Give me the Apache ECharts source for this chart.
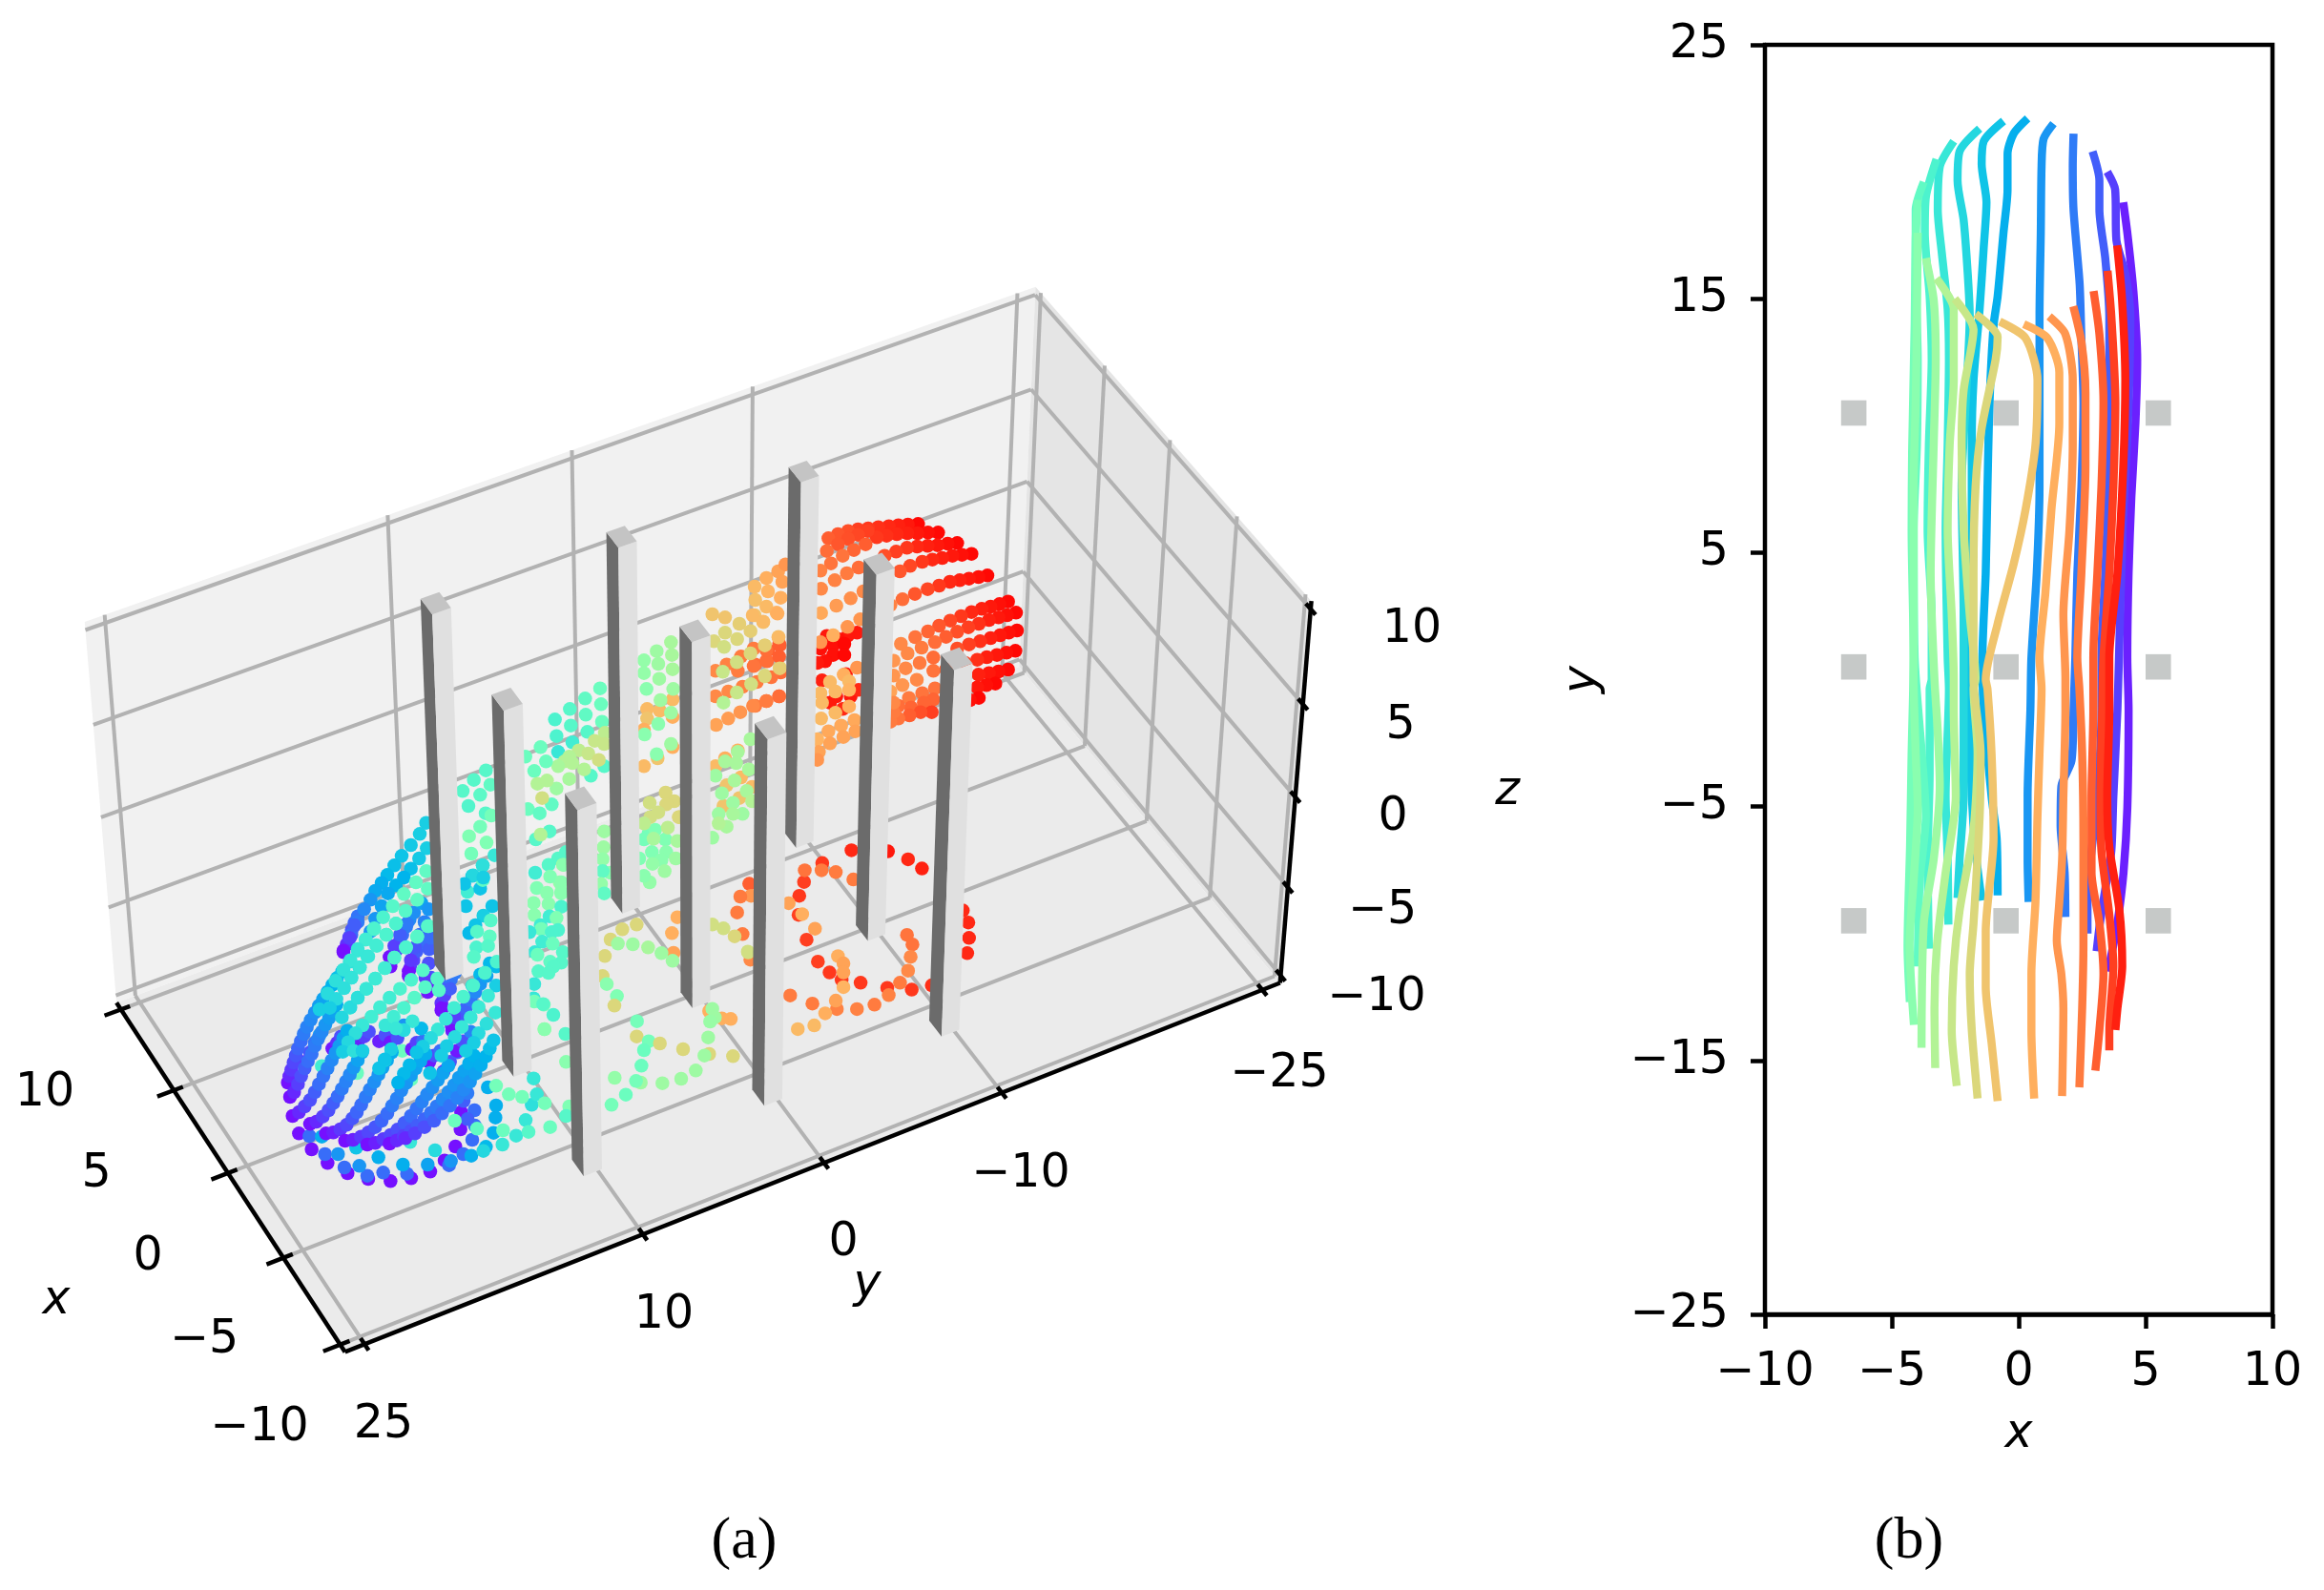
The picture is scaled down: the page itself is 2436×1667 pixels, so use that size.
<!DOCTYPE html>
<html><head><meta charset="utf-8">
<style>html,body{margin:0;padding:0;background:#fff}#c{width:2436px;height:1667px}</style>
<script src="https://cdn.jsdelivr.net/npm/echarts@6/dist/echarts.min.js"></script>
</head><body><div id="c"></div>
<script>
// ---------- panel (b): trajectories, top view [x, y]
const L04=[[4.12,18.8],[4.28,17.6],[4.52,15.3],[4.67,12.6],[4.6,10.1],[4.44,7.2],[4.33,4.2],[4.28,.86],[4.33,-1.2],[4.28,-5.07],[4.13,-7.6],[3.89,-9.6],[3.73,-10.44],[3.52,-11.5]];
const L08=[[3.49,20],[3.8,19.3],[3.85,17.3],[4.2,16],[4.4,14.3],[4.3,10],[4.1,6],[3.95,.86],[3.89,-1.2],[3.73,-4.6],[3.65,-6.75],[3.41,-8.26],[3.2,-9.6],[3.07,-10.7]];
const L12=[[2.91,20.8],[3.18,19.65],[3.18,18.5],[3.41,16.6],[3.57,14.3],[3.57,10.9],[3.54,7.6],[3.41,4.2],[3.26,.86],[3.26,-1.2],[3.1,-4.6],[2.87,-6.75],[2.71,-8.26],[2.71,-10]];
const L16=[[2.16,21.5],[2.13,20.2],[2.16,18.5],[2.4,15.6],[2.47,13.45],[2.55,10.9],[2.47,7.6],[2.31,4.2],[2.23,.86],[2.16,-1.2],[2.08,-3.2],[1.68,-4.2],[1.65,-5.74],[1.81,-7.6],[1.84,-9.35]];
const L20=[[1.37,21.9],[.98,21.3],[.9,20.2],[.87,17.6],[.82,14.3],[.82,10.9],[.82,7.6],[.71,4.2],[.5,.86],[.46,-1.2],[.35,-4.6],[.35,-7.08],[.39,-8.76]];
const L24=[[.35,22.1],[-.2,21.5],[-.44,20.7],[-.44,19.3],[-.6,17.6],[-.83,15.1],[-.99,13.95],[-1.15,10.9],[-1.23,7.6],[-1.3,4.2],[-1.43,.86],[-1.38,-1.2],[-1.07,-4.6],[-.87,-6.24],[-.83,-8.5]];
const L28=[[-.6,22],[-1.38,21.2],[-1.46,20.3],[-1.27,18.8],[-1.38,17],[-1.54,14.6],[-1.78,11.8],[-1.85,9.25],[-1.85,5.9],[-2.09,.86],[-1.93,-1.7],[-1.85,-4.6],[-1.7,-6.75],[-1.46,-8.7]];
const L32=[[-1.54,21.7],[-2.33,20.8],[-2.41,19.65],[-2.17,18.1],[-2.01,16],[-1.93,14.3],[-2.09,10.9],[-2.25,7.6],[-2.17,2.55],[-2.17,.02],[-2.17,-1.2],[-2.17,-4.6],[-2.33,-7.08],[-2.41,-8.6]];
const L36=[[-2.56,21.2],[-3.11,20.2],[-3.19,18.5],[-3.03,16.8],[-2.8,14.6],[-2.75,12.6],[-2.8,9.25],[-2.88,5.9],[-2.8,.86],[-2.75,-.37],[-2.88,-4.6],[-2.8,-7.08],[-2.77,-9.65]];
const L40=[[-3.24,20.5],[-3.66,19],[-3.7,17.6],[-3.51,15.1],[-3.43,12.6],[-3.54,9.25],[-3.59,5.9],[-3.43,2.55],[-3.43,.02],[-3.51,-.37],[-3.51,-3.7],[-3.59,-7.08],[-3.54,-10.6]];
const L44=[[-3.74,19.6],[-4.06,18.5],[-4.06,16],[-3.98,12.6],[-4.01,9.25],[-4.14,5.9],[-4.1,.86],[-3.82,-2.9],[-3.66,-5.4],[-3.9,-7.92],[-3.98,-11.3]];
const L48=[[-3.98,18.9],[-4.06,17.3],[-4.1,14],[-4.2,9],[-4.22,5.9],[-4.14,.86],[-4.22,-2.9],[-4.28,-6.5],[-4.38,-10.5],[-4.29,-12.7]];
const L52=[[-3.98,17.6],[-4.01,14.3],[-4.06,10.9],[-4.14,7.6],[-4.14,4.2],[-4.14,.02],[-4.06,-2.9],[-3.98,-5.07],[-4.14,-7.92],[-4.3,-10.44],[-4.13,-13.6]];
const L56=[[-3.66,16.6],[-3.35,14.95],[-3.27,12.6],[-3.35,9.25],[-3.47,4.2],[-3.32,.02],[-3.19,-2.05],[-3.11,-4.2],[-3.35,-7.08],[-3.74,-9.6],[-3.83,-14.5]];
const L60=[[-3.24,15.8],[-2.56,14.6],[-2.56,11.8],[-2.72,9.25],[-2.8,5.9],[-2.64,2.55],[-2.56,.02],[-2.56,-1.2],[-2.48,-4.6],[-2.88,-7.6],[-3.22,-10.44],[-3.32,-12.95],[-3.29,-15.3]];
const L64=[[-2.52,15],[-1.78,13.8],[-2.17,11.4],[-2.25,9.25],[-2.17,5.9],[-1.93,2.55],[-1.7,.02],[-1.78,-.37],[-1.62,-2.9],[-1.78,-5.9],[-2.33,-9.1],[-2.56,-11.28],[-2.64,-13.8],[-2.44,-16]];
const L68=[[-1.7,14.4],[-.83,13.5],[-.91,12.6],[-1.46,9.9],[-1.7,7.6],[-1.78,4.2],[-1.78,.02],[-1.5,-2.9],[-1.54,-5.4],[-1.78,-9.6],[-1.93,-11.6],[-1.85,-13.8],[-1.62,-16.5]];
const L72=[[-.75,14.1],[.27,13.45],[.74,11.8],[.66,9.25],[.27,6.7],[-.2,4.55],[-.83,2.2],[-1.3,0],[-1.23,-.37],[-1.07,-2.9],[-.99,-6.24],[-1.3,-9.93],[-1.3,-12.1],[-1.07,-14.3],[-.83,-16.6]];
const L76=[[.2,14],[1.13,13.45],[1.6,12.1],[1.6,10.1],[1.29,6.7],[1.05,3.4],[.82,.86],[.9,-.37],[.82,-2.9],[.74,-5.4],[.66,-8.76],[.5,-11.6],[.5,-13.8],[.61,-16.5]];
const L80=[[1.2,14.3],[1.84,13.6],[2.13,11.8],[2.13,9.25],[2,5.9],[1.76,2.55],[1.84,.02],[1.84,-1.2],[1.76,-4.6],[1.71,-7.08],[1.6,-8.76],[1.5,-10.27],[1.68,-11.6],[1.76,-12.95],[1.71,-16.4]];
const L84=[[2.15,14.7],[2.47,13.3],[2.63,11.3],[2.63,8.4],[2.47,4.2],[2.31,.86],[2.39,-.37],[2.5,-2.9],[2.55,-6.24],[2.55,-10.44],[2.5,-12.95],[2.39,-16.06]];
const L88=[[2.95,15.3],[3.18,13.6],[3.34,10.9],[3.26,7.6],[3.1,4.2],[2.94,.86],[2.94,-1.2],[2.87,-4.6],[2.87,-7.6],[3.18,-9.6],[3.34,-11.6],[3.18,-13.8],[3.02,-15.4]];
const L92=[[3.5,16.1],[3.65,14.3],[3.81,10.9],[3.73,7.6],[3.57,4.2],[3.34,.86],[3.29,-1.2],[3.22,-4.6],[3.26,-6.75],[3.57,-9.26],[3.73,-11.28],[3.57,-13.8],[3.57,-14.6]];
const L96=[[3.88,17.1],[4.07,15],[4.2,11.8],[4.12,8.4],[3.89,4.2],[3.57,.86],[3.57,-1.2],[3.49,-4.6],[3.57,-6.58],[3.97,-9.1],[4.08,-11.28],[3.89,-12.95],[3.81,-13.8]];
const trajectories=[L04,L08,L12,L16,L20,L24,L28,L32,L36,L40,L44,L48,L52,L56,L60,L64,L68,L72,L76,L80,L84,L88,L92,L96];
const trajectoryLevels=[.04,.08,.12,.16,.2,.24,.28,.32,.36,.4,.44,.48,.52,.56,.6,.64,.68,.72,.76,.8,.84,.88,.92,.96];
const obstacleXs=[[-7,-6],[-1,0],[5,6]];
const obstacleYs=[[-10,-9],[0,1],[10,11]];
const obstacleFoot=-10, obstacleTop=10;
const xTicksB=[-10,-5,0,5,10];
const yTicksB=[-25,-15,-5,5,15,25];

// ---------- panel (a): box ticks
const xTicks3d=[-10,-5,0,5,10];
const yTicks3d=[-25,-10,0,10,25];
const zTicks3d=[-10,-5,0,5,10];
// camera read-off: [x,y,z, picture u, picture v]
const cameraMarks=[[10.42,25,-10.42,142,1043],[-10,25,-10.42,377,1402],[10,-25,-10.42,1051.7,711],[-10,-25,-10.42,1315.7,1032.5],
[10,-26.04,10.42,1091.8,310.6],[-10,-26.04,10.42,1369.3,627],[10,-26.04,-10.42,1076.5,703.5],[-10,-26.04,-10.42,1338.7,1019.8],
[-10.42,-26.04,10.42,1374,627],[-10.42,-26.04,-10.42,1342,1030],[10.42,26.04,10,88.3,658],[10.42,26.04,-10,121.7,1045.7],
[10.42,25,10,110,650.7],[10.42,10,10,408.3,551],[10.42,10,-5,420,843],[10.42,-26.04,10.42,1084,298],
[-10,26.04,-10.42,359,1411],[-10.42,25,-10.42,382,1408],[-10.42,-25,-10.42,1323,1040],[-10.42,0,-10.42,862,1220],[-10.42,26.04,-10.42,360,1416]];

// ---------- panel (a): dots [u, v, time level], each list in its own read-off frame
const floorFront=[[100,685,.02],[140,735,.02],[190,778,.02],[253,810,.02],[318,828,.02],[388,835,.02],[453,826,.02],[513,805,.02],[558,770,.02],[592,726,.02],[608,672,.02],[610,618,.02],
[133,693,.14],[182,750,.14],[243,792,.14],[315,818,.14],[365,808,.14],[440,812,.14],[572,785,.14],[617,750,.14],[645,705,.14],[653,660,.14],[652,612,.14],[630,640,.12],[618,583,.12],[630,558,.16],
[223,750,.2],[290,787,.2],[350,760,.24],[427,783,.24],[505,783,.22],[578,772,.2],[642,755,.24],[688,727,.26],[712,683,.24],[718,635,.24],[720,597,.24],[694,540,.24],
[172,695,.24],[280,730,.28],[528,738,.33],[680,740,.32],[740,720,.36],[783,692,.36],[813,643,.36],[832,595,.34],[848,562,.36],[838,512,.36],[450,712,.36],
[720,535,.48],[760,562,.48],[802,570,.48],[873,590,.48],[822,680,.42],[742,675,.46],[660,670,.44],[590,645,.46],[890,665,.46],[283,495,.46],[172,473,.38],[425,425,.46],[453,515,.46],[870,280,.48],[872,357,.56]];
const floorMiddle=[[1395,778,.66],[1402,800,.82]];
const floorFar=[[895,1075,.95],[995,1078,.97],[1050,1100,.95],[1088,1125,.96],[815,1110,.93],[765,1162,.92],[752,1200,.93],[750,1252,.92],[772,1320,.92],[803,1380,.92],[835,1410,.93],[868,1430,.93],[920,1438,.93],[993,1452,.93],[1060,1457,.93],[1115,1445,.94],[1212,1357,.95],[1217,1315,.95],[1215,1273,.95],[1200,1240,.95],
[767,1130,.85],[813,1130,.84],[852,1135,.84],[900,1155,.84],[615,1167,.88],[620,1200,.8],[723,1220,.78],[760,1250,.76],[795,1290,.78],[858,1365,.76],[873,1385,.78],[873,1410,.78],[873,1450,.75],[1047,1307,.85],[1062,1333,.85],[1057,1367,.82],[1050,1405,.82],[1028,1438,.84],[997,1472,.83],[958,1498,.84],[910,1510,.83],[855,1510,.83],[788,1495,.84],[727,1473,.84],[852,1487,.78],[823,1522,.76],[793,1555,.74],[748,1565,.74],[612,1355,.66]];
const farEnd=[[517,58,.99],[485,60,.97],[455,62,.96],[425,65,.95],[392,68,.94],[360,72,.93],[328,75,.92],[297,80,.9],[265,90,.89],[235,103,.88],
[580,85,.99],[548,85,.98],[515,87,.97],[483,87,.96],[450,90,.95],[418,95,.94],[387,100,.93],[358,80,.92],[328,92,.91],[297,105,.9],[265,122,.89],[230,143,.86],[352,122,.88],[315,140,.87],[280,158,.85],[243,182,.85],[210,205,.83],
[640,118,.99],[610,120,.98],[578,125,.97],[547,127,.96],[514,129,.95],[482,133,.93],[448,145,.92],[412,158,.9],
[685,152,.99],[655,155,.98],[625,158,.97],[593,165,.96],[562,170,.95],[530,177,.93],[492,190,.91],[460,207,.89],[330,195,.86],[293,213,.84],[255,235,.83],[212,262,.82],
[735,220,.99],[707,225,.98],[677,230,.97],[648,235,.96],[617,240,.95],[583,252,.93],[547,263,.91],[507,278,.89],[468,295,.86],[430,313,.83],[345,270,.82],[305,292,.81],[260,315,.79],[212,338,.77],
[800,302,.99],[773,310,.98],[745,318,.97],[717,325,.96],[685,335,.95],[652,348,.93],[618,362,.91],[583,378,.89],[548,396,.87],[508,414,.85],[463,435,.82],
[825,337,.99],[797,345,.98],[770,352,.97],[740,360,.96],[708,372,.94],[675,383,.92],[640,397,.9],[605,413,.88],[570,430,.86],[528,447,.84],[484,465,.82],[440,488,.8],
[828,393,.99],[802,400,.98],[775,408,.97],[745,417,.96],[712,427,.94],[677,437,.92],[640,450,.9],[565,478,.86],[522,495,.84],[478,512,.82],[440,535,.8],
[823,457,.99],[795,463,.98],[765,470,.97],[733,477,.96],[703,485,.94],[665,495,.92],[605,515,.88],[565,520,.85],[513,548,.82],[468,565,.8],[430,585,.78],
[800,516,.99],[770,522,.98],[740,527,.97],[707,532,.96],[760,560,.99],[732,565,.98],[703,572,.97],[708,605,.99],[680,612,.98],
[570,575,.85],[530,590,.85],[488,605,.84],[565,610,.87],[535,620,.87],[495,635,.87],[455,630,.86],[560,650,.92],[525,650,.9],[490,660,.88],[455,670,.85],[430,680,.84],[440,650,.84],[440,620,.82],
[325,400,.97],[295,410,.97],[265,420,.98],[230,410,.97],[210,450,.98],[250,440,.98],[285,435,.99],[250,470,.98],[285,470,.99],[225,490,.98],[200,495,.97],
[290,530,.97],[305,600,.97],[260,600,.97],[240,620,.97],[280,640,.95],[215,550,.96],[330,580,.95],
[250,408,.76],[295,382,.8],[335,358,.8],[210,430,.8],[325,510,.8],[283,532,.76],[240,555,.74],[300,553,.74],[257,585,.74],[300,580,.75],[210,590,.74],[215,620,.74],[300,632,.76],[257,652,.74],[212,670,.74],[317,675,.77],[275,692,.77],[235,710,.77],[320,710,.78],[282,728,.78],[240,748,.78],[200,735,.75],[205,775,.78],[200,800,.8],
[40,228,.76],[77,207,.78],[90,240,.78],[100,185,.8],[45,270,.75],[85,290,.76],[3,255,.74],[5,297,.73],[40,318,.74],[72,337,.75],[3,345,.72],[30,367,.72],
[82,440,.88],[42,490,.86],[85,525,.86],[5,500,.86],[45,455,.88],[40,615,.85],[80,600,.86],[5,630,.84],[78,413,.72],[35,440,.68],[82,510,.7],[35,535,.66]];
const midUpper=[[147,245,.46],[100,277,.44],[150,295,.46],[52,310,.42],[102,328,.44],[153,350,.46],[55,362,.42],[5,343,.4],[107,382,.42],[10,395,.4],[60,415,.38],[15,445,.36],[160,490,.42],[118,520,.42],
[162,385,.62],[130,410,.64],[160,420,.64],[80,440,.62],[110,450,.64],[143,470,.66],[50,460,.6],[35,475,.6],[60,480,.6],[97,500,.6],[15,490,.58],[50,530,.58],[10,560,.56],
[375,280,.74],[295,310,.74],[335,315,.74],[295,340,.72],[375,335,.76],[285,375,.76],[375,430,.76],[285,490,.74],[328,465,.72],
[370,100,.58],[325,128,.56],[373,140,.58],[285,157,.54],[330,168,.56],[375,185,.58],[285,197,.54],[333,215,.56],[293,247,.52],[377,247,.56],[337,282,.56],[370,322,.56],[330,357,.52],[287,390,.52],[370,420,.56],[325,452,.52],
[500,12,.72],[540,22,.72],[585,42,.7],[540,70,.68],[505,97,.68],[578,90,.68],[620,65,.7],[627,15,.74],[660,35,.74],[705,10,.76],[537,115,.66],
[630,120,.84],[590,145,.84],[545,170,.83],[510,190,.82],[670,158,.86],[710,145,.88],[710,105,.88],[670,125,.86],[630,175,.85],[580,190,.84],[685,210,.85],[640,225,.84],[595,240,.83],[550,255,.82],[510,270,.82],[710,270,.86],[670,285,.84],[628,300,.82],[588,320,.8],[550,340,.79],[512,360,.78],
[665,110,.7],[708,85,.74],[620,135,.68],[577,163,.66],[533,193,.64],[712,182,.7],[665,207,.68],[622,232,.66],[577,258,.64],[535,290,.6],
[540,465,.76],[580,440,.76],[510,490,.74],[590,525,.74],[545,550,.72],[625,555,.74],[585,590,.72],[535,615,.72],[395,650,.7],
[620,405,.58],[580,445,.58],[540,475,.58],[615,500,.58],[575,480,.58],[510,520,.56],[570,535,.58],[530,575,.56],[608,568,.58],[565,605,.56],[520,640,.56],[595,640,.56],[565,640,.58],[545,680,.58],[520,670,.6],[625,600,.6],[500,715,.56],
[300,700,.48],[285,720,.48],[320,690,.5],[352,720,.5],[310,760,.5],[355,760,.52],[340,785,.52],[270,780,.5],[385,780,.56],[312,797,.54],[350,820,.56],[303,855,.54],[285,835,.52],
[353,573,.68],[303,605,.66],[380,600,.68],[355,610,.68],[330,635,.66],[305,650,.66],[285,670,.62],[395,650,.68],[360,683,.62],[315,718,.58],[390,725,.58],
[40,760,.42],[15,780,.42],[30,800,.56],[160,695,.56],[158,745,.56],[155,782,.54],[180,825,.52],[155,820,.44],[20,855,.54],[150,860,.54],[160,890,.44],[25,885,.52]];
const midLower=[[285,20,.42],[243,45,.38],[333,20,.52],[290,57,.5],[325,75,.52],[248,93,.5],[280,108,.52],[325,110,.52],[238,140,.52],[285,143,.52],[325,152,.4],[240,178,.52],[288,182,.38],[310,187,.5],[260,210,.38],[262,222,.48],[315,225,.4],[225,232,.36],[295,232,.4],[265,262,.38],[298,268,.46],[242,295,.36],[330,295,.42],[250,303,.46],[290,325,.44],[325,328,.42],[300,340,.42],[253,355,.42],[285,360,.42],[240,395,.36],[238,440,.36],[240,450,.48],[268,458,.42],[300,492,.4],[272,537,.52],[338,552,.42],[340,640,.52],[350,780,.5],[340,810,.42],
[108,150,.28],[80,180,.3],[55,210,.28],[35,235,.26],[103,195,.42],[60,230,.42],[100,245,.44],[58,280,.4],[95,275,.42],[50,310,.42],[25,150,.28],[30,105,.38],[70,95,.28],[45,55,.3],[78,68,.44],[78,22,.36],[120,340,.26],[100,330,.26],[70,365,.26],[85,360,.34],[45,400,.34],[120,400,.3],
[888,120,.84],[878,170,.84],[895,238,.84],[690,185,.76],[673,235,.76],[678,297,.78],[858,505,.76],[830,503,.76],[790,480,.76],
[562,208,.68],[517,223,.68],[480,255,.68],[503,268,.56],[550,270,.56],[598,280,.58],[640,298,.56],[675,322,.56],[462,307,.68],[455,370,.68],[468,395,.52],[500,433,.5],[492,463,.68],[563,512,.48],[562,560,.68],[600,575,.48],[585,603,.46],[635,582,.68],[577,652,.46],[708,600,.68],[790,615,.68],[775,620,.56],[865,622,.68],[787,563,.56],[800,473,.56],[808,500,.56],[793,513,.55],[493,690,.54],[575,705,.56],[560,700,.48],[643,707,.56],[702,693,.56],[748,667,.56],[528,743,.46],[483,775,.48],[835,220,.66],[870,245,.68],[800,208,.66]];
const stubs=[[240,115,.02],[250,90,.06],[258,68,.09],[266,45,.11],[275,22,.13],[285,2,.15],[388,160,.02],[395,135,.07],[405,110,.09],[415,85,.12],[425,60,.14],[437,35,.16],[448,12,.18],[445,190,.02],[450,165,.06],[460,140,.09],[470,112,.12],[480,85,.14],[490,58,.16],[500,30,.18],[505,240,.03],[505,215,.08],[515,195,.1],[548,298,.02],[548,275,.06],[555,250,.09],[565,225,.12],[578,200,.15],[590,180,.16],[582,362,.03],[595,340,.08],[610,315,.11],[625,290,.13],[640,265,.15],[655,240,.18],[670,215,.2],[690,190,.22],[205,418,.03],[220,400,.06],[232,380,.1],[285,398,.04],[305,380,.08],[320,365,.1],[352,395,.04],[372,375,.1],[388,398,.03],[410,385,.1],[430,345,.2],[455,420,.03],[470,400,.08],[490,395,.14],[510,460,.03],[525,440,.1],[545,425,.14],[555,490,.04],[575,460,.1],[598,430,.13],[597,425,.03],[615,395,.1],[640,365,.17],[120,460,.04],[135,430,.1],[150,400,.15],[165,375,.2]];
const frontArcs=[[65,525,.02],[70,505,.05],[76,485,.07],[83,462,.09],[90,440,.11],[97,418,.13],[106,395,.14],[115,372,.16],[125,350,.17],[137,328,.18],[150,305,.19],[163,283,.21],[176,262,.22],[190,240,.24],[205,218,.25],[220,196,.27],[236,175,.28],
[72,570,.02],[85,555,.05],[97,530,.08],[107,505,.1],[118,480,.12],[128,458,.14],[140,435,.15],[150,410,.16],[160,388,.17],[172,365,.18],[183,343,.2],[195,322,.21],[207,300,.22],[218,280,.24],
[80,630,.02],[100,618,.05],[118,600,.08],[135,580,.1],[150,555,.12],[163,530,.14],[177,505,.15],[190,480,.17],[203,455,.18],[215,432,.2],[227,410,.21],[240,385,.22],[252,362,.24],
[135,655,.02],[155,648,.05],[175,632,.08],[193,612,.1],[208,590,.12],[222,568,.14],[235,545,.16],[248,522,.17],[260,500,.18],[272,478,.2],[285,455,.22],[298,430,.23],
[185,685,.02],[208,682,.04],[230,672,.07],[250,658,.09],[268,638,.11],[282,618,.13],[296,595,.14],[310,570,.16],[323,547,.17],[337,523,.19],[350,500,.2],[363,478,.22],[377,455,.23],[392,430,.24],
[245,708,.02],[270,705,.04],[295,695,.07],[318,682,.09],[340,665,.11],[360,645,.13],[378,622,.14],[393,598,.16],[408,575,.17],[422,550,.18],[437,527,.2],[452,503,.21],[467,480,.22],[482,458,.23],[498,435,.24],
[315,720,.02],[340,715,.04],[365,703,.07],[388,690,.09],[410,673,.1],[432,652,.12],[452,630,.14],[470,607,.15],[487,585,.17],[503,562,.18],[520,540,.19],[537,517,.21],[553,495,.22],[570,472,.23],
[385,717,.02],[408,707,.05],[430,693,.08],[452,678,.1],[473,660,.12],[495,640,.13],[515,620,.15],[533,600,.16],[552,578,.18],[570,555,.19],[588,533,.2],[603,510,.21],[620,488,.22],[635,465,.24],[650,440,.25],
[435,700,.05],[465,685,.08],[495,665,.1],[525,645,.12],[550,622,.14],[575,598,.15],[598,573,.17],[618,548,.18],[638,522,.2],[655,497,.22],[672,470,.24],[688,443,.25],[700,418,.27],[712,392,.28]];
const clusterMiddle=[[448,83,.42],[410,113,.42],[462,128,.44],[375,148,.42],[430,160,.43],[393,195,.41],[447,218,.42],[260,248,.3],[240,283,.3],[212,318,.29],[262,328,.3],[183,352,.28],[238,360,.29],[160,382,.27],[212,392,.27],[138,412,.26],[120,437,.24],[190,420,.25],[100,462,.23],[165,445,.25],[85,490,.2],[140,470,.23],[65,520,.18],[120,510,.22],[45,560,.16],[100,550,.2],[25,600,.14],[85,590,.2],
[0,650,.02],[20,610,.08],[35,570,.12],[145,670,.02],[160,635,.08],[178,600,.12],[200,565,.16],[222,530,.19],[245,500,.22],[205,715,.02],[212,680,.07],[225,640,.11],[240,600,.14],[255,560,.17],[268,520,.2],[265,770,.02],[258,735,.07],[268,690,.1],[270,645,.12],[275,610,.14],[310,830,.02],[318,790,.08],[335,770,.12],[340,885,.02],[348,860,.08],
[475,350,.36],[438,382,.34],[408,413,.32],[440,420,.3],[380,440,.28],
[580,205,.46],[617,218,.44],[655,190,.44],[605,300,.42],[648,275,.42],[572,40,.46],[620,10,.46],[637,55,.46],[600,85,.46],
[430,260,.48],[465,225,.48],[395,290,.5],[450,310,.5],[402,345,.48],
[610,125,.6],[640,115,.6],[625,170,.66],[620,285,.6],
[260,400,.44],[228,435,.44],[265,455,.44],[190,472,.44],[232,490,.44],[155,510,.42],[195,525,.42],[125,545,.4],[165,565,.4],[95,583,.4],[135,600,.38],[70,615,.38],[103,633,.38],[45,650,.36],[75,668,.36],[20,685,.34],[50,703,.34],[25,735,.34],
[268,573,.42],[232,605,.44],[197,640,.42],[160,672,.4],[130,705,.4],[100,738,.4],[72,770,.4],[45,798,.4],[20,830,.4]];
const overlayFront=[[337,40,.4],[375,60,.4],[405,25,.4],[310,75,.38],[345,95,.38],[285,105,.36],[318,128,.36],[262,140,.36],[292,163,.36],[240,170,.35],[265,195,.35],[215,205,.34],[242,228,.34],[190,245,.33],[218,262,.33],[165,295,.3],[197,290,.3],[235,320,.32],[262,288,.33],[285,258,.34],[312,230,.36],[340,198,.37],[370,165,.38],[400,132,.4],[436,100,.4],[472,67,.42],[505,33,.42],[490,172,.42],[453,202,.4],[418,230,.4],[385,258,.38],[355,288,.38],[328,318,.38],[300,345,.36],[278,370,.34],[255,398,.32],[238,428,.3],[272,425,.34],[300,425,.3],[372,345,.36],[398,318,.38],[430,290,.4],[463,258,.42],[497,225,.42],[540,235,.42],[535,198,.42],[588,290,.38],[617,255,.4],[648,220,.4],[685,180,.4],[722,145,.4],[665,287,.37],[695,252,.37],[640,320,.36],[612,350,.36],[590,382,.33],[562,325,.36],[537,358,.36],[515,385,.33],[485,355,.26],[457,332,.36],[430,360,.33],[405,355,.36],[370,455,.3],[352,480,.28],[690,340,.34],[718,305,.36],[665,370,.33],[650,400,.3],[625,425,.3],[565,410,.3],[548,440,.3],[512,495,.28],[490,412,.3],[470,430,.28],[448,470,.26],[430,497,.26],[412,525,.25],[390,420,.3],[370,452,.28]];
// read-off frames [left, top, magnification]
const frameFront=[280,960,3], frameCluster=[360,780,3], frameLower=[250,700,2.613], frameUpper=[550,480,2.613], frameFar=[790,530,3], frameMidUpper=[580,640,3], frameMidLower=[480,900,3];

const place=(list,f)=>list.map(d=>[f[0]+d[0]/f[2],f[1]+d[1]/f[2],d[2]]);
const dots3d=[].concat(
  place(floorMiddle,frameLower),place(floorFar,frameUpper),place(floorFront,frameFront),
  place(farEnd,frameFar),place(midUpper,frameMidUpper),place(midLower,frameMidLower),
  place(stubs,frameFront),place(frontArcs,frameFront),place(clusterMiddle,frameCluster),
  place(overlayFront,frameFront));

// colormap
function rainbow(c){const r=Math.min(1,Math.abs(2*c-.5)),g=Math.sin(Math.PI*c),b=Math.cos(Math.PI*c/2);
  return 'rgb('+[r,g,b].map(v=>Math.round(255*Math.max(0,v))).join(',')+')';}

// perspective camera fitted to the read-off box marks
function fitCamera(marks){
  const A=[],B=[];
  marks.forEach(m=>{const X=m[0]/25,Y=m[1]/25,Z=m[2]/25,u=m[3]/1000,v=m[4]/1000;
    A.push([X,Y,Z,1,0,0,0,0,-u*X,-u*Y,-u*Z]);B.push(u);
    A.push([0,0,0,0,X,Y,Z,1,-v*X,-v*Y,-v*Z]);B.push(v);});
  const n=11,N=[];
  for(let i=0;i<n;i++){N.push(new Array(n+1).fill(0));
    for(let j=0;j<n;j++)A.forEach(r=>N[i][j]+=r[i]*r[j]);
    A.forEach((r,k)=>N[i][n]+=r[i]*B[k]);}
  for(let i=0;i<n;i++){let p=i;for(let k=i+1;k<n;k++)if(Math.abs(N[k][i])>Math.abs(N[p][i]))p=k;
    [N[i],N[p]]=[N[p],N[i]];
    for(let k=0;k<n;k++){if(k===i)continue;const f=N[k][i]/N[i][i];for(let j=i;j<=n;j++)N[k][j]-=f*N[i][j];}}
  return N.map((r,i)=>r[n]/r[i]);
}
const cam=fitCamera(cameraMarks);
function project(x,y,z){const X=x/25,Y=y/25,Z=z/25,w=cam[8]*X+cam[9]*Y+cam[10]*Z+1;
  return [1000*(cam[0]*X+cam[1]*Y+cam[2]*Z+cam[3])/w,1000*(cam[4]*X+cam[5]*Y+cam[6]*Z+cam[7])/w];}

const padX=.42,padY=1.04,padZ=.42;
const X0=-10-padX,X1=10+padX,Y0=-25-padY,Y1=25+padY,Z0=-10-padZ,Z1=10+padZ;
const panes=[
 {color:'#f1f1f1',pts:[[X1,Y1,Z0],[X1,Y0,Z0],[X1,Y0,Z1],[X1,Y1,Z1]]},
 {color:'#e5e5e5',pts:[[X1,Y0,Z0],[X0,Y0,Z0],[X0,Y0,Z1],[X1,Y0,Z1]]},
 {color:'#ebebeb',pts:[[X1,Y1,Z0],[X0,Y1,Z0],[X0,Y0,Z0],[X1,Y0,Z0]]}];
const gridSegs=[];
yTicks3d.forEach(y=>{gridSegs.push([[X1,y,Z0],[X1,y,Z1]],[[X1,y,Z0],[X0,y,Z0]]);});
xTicks3d.forEach(x=>{gridSegs.push([[x,Y0,Z0],[x,Y0,Z1]],[[x,Y0,Z0],[x,Y1,Z0]]);});
zTicks3d.forEach(z=>{gridSegs.push([[X1,Y0,z],[X1,Y1,z]],[[X1,Y0,z],[X0,Y0,z]]);});
const axisSegs=[[[X1,Y1,Z0],[X0,Y1,Z0]],[[X0,Y1,Z0],[X0,Y0,Z0]],[[X0,Y0,Z0],[X0,Y0,Z1]]];
xTicks3d.forEach(x=>axisSegs.push([[x,Y1+.9,Z0],[x,Y1-.5,Z0]]));
yTicks3d.forEach(y=>axisSegs.push([[X0-.35,y,Z0],[X0+.35,y,Z0]]));
zTicks3d.forEach(z=>axisSegs.push([[X0-.35,Y0,z],[X0+.35,Y0,z]]));
const pillars=[];
obstacleYs.forEach(ys=>obstacleXs.slice().reverse().forEach(xs=>pillars.push([xs[0],xs[1],ys[0],ys[1]])));

const txt=(t,x,y,opt)=>({type:'text',x,y,silent:true,z:20,style:Object.assign({text:t,align:'center',verticalAlign:'middle',fontFamily:'DejaVu Sans',fontSize:49,fill:'#000'},opt||{})});
const labels3d=[['10',1480,660],['5',1468,761],['0',1460,857],['\u22125',1449,955],['\u221210',1443,1046],
 ['10',47,1146],['5',101,1231],['0',155,1318],['\u22125',214,1405],['\u221210',272,1497],
 ['25',402,1494],['10',696,1379],['0',884,1303],['\u221210',1070,1231],['\u221225',1341,1126]];
const it={fontStyle:'italic'};
const graphicEls=labels3d.map(l=>txt(l[0],l[1],l[2]))
 .concat([txt('x',59,1364,it),txt('y',909,1347,it),txt('z',1580,830,it),
  txt('(a)',780,1617,{fontFamily:'Liberation Serif',fontSize:62}),txt('(b)',2001,1617,{fontFamily:'Liberation Serif',fontSize:62})]);

const fmt=v=>String(v).replace('-','\u2212');
const hidden={min:0,show:false};
const nameStyle={fontFamily:'DejaVu Sans',fontSize:49,fontStyle:'italic',color:'#000'};
const option={
 animation:false,backgroundColor:'#fff',
 graphic:{elements:graphicEls},
 grid:[{left:0,top:0,width:2436,height:1667,show:false},
       {left:1850,top:47,width:532,height:1331,show:true,borderColor:'#000',borderWidth:4.5,backgroundColor:'#fff',z:1}],
 xAxis:[{...hidden,type:'value',gridIndex:0,max:2436},
  {type:'value',gridIndex:1,min:-10,max:10,splitLine:{show:false},
   name:'x',nameLocation:'middle',nameGap:102,nameTextStyle:nameStyle,
   axisLine:{onZero:false,lineStyle:{color:'#000',width:4.5}},
   axisTick:{length:15,lineStyle:{color:'#000',width:4.5},customValues:xTicksB},
   axisLabel:{customValues:xTicksB,formatter:fmt,margin:37,fontFamily:'DejaVu Sans',fontSize:49,color:'#000',hideOverlap:false}}],
 yAxis:[{...hidden,type:'value',gridIndex:0,max:1667,inverse:true},
  {type:'value',gridIndex:1,min:-25,max:25,splitLine:{show:false},
   name:'y',nameLocation:'middle',nameGap:166,nameRotate:90,nameTextStyle:nameStyle,
   axisLine:{onZero:false,lineStyle:{color:'#000',width:4.5}},
   axisTick:{length:15,lineStyle:{color:'#000',width:4.5},customValues:yTicksB},
   axisLabel:{customValues:yTicksB,formatter:fmt,margin:38,padding:[12,0,0,0],fontFamily:'DejaVu Sans',fontSize:49,color:'#000',hideOverlap:false}}],
 series:[
  {type:'custom',xAxisIndex:0,yAxisIndex:0,z:2,silent:true,clip:false,data:panes.map((p,i)=>[i]),encode:{x:0,y:0},
   renderItem:(ctx,api)=>{const p=panes[ctx.dataIndex];
     return {type:'polygon',shape:{points:p.pts.map(q=>api.coord(project(q[0],q[1],q[2])))},style:{fill:p.color}};}},
  {type:'custom',xAxisIndex:0,yAxisIndex:0,z:3,silent:true,clip:false,data:gridSegs.map((p,i)=>[i]),encode:{x:0,y:0},
   renderItem:(ctx,api)=>{const s=gridSegs[ctx.dataIndex],a=api.coord(project(...s[0])),b=api.coord(project(...s[1]));
     return {type:'line',shape:{x1:a[0],y1:a[1],x2:b[0],y2:b[1]},style:{stroke:'#b2b2b2',lineWidth:4}};}},
  {type:'custom',xAxisIndex:0,yAxisIndex:0,z:4,silent:true,clip:false,data:axisSegs.map((p,i)=>[i]),encode:{x:0,y:0},
   renderItem:(ctx,api)=>{const s=axisSegs[ctx.dataIndex],a=api.coord(project(...s[0])),b=api.coord(project(...s[1]));
     return {type:'line',shape:{x1:a[0],y1:a[1],x2:b[0],y2:b[1]},style:{stroke:'#000',lineWidth:4.5}};}},
  {type:'scatter',xAxisIndex:0,yAxisIndex:0,z:5,silent:true,clip:false,progressive:0,large:false,symbol:'circle',symbolSize:14.5,
   data:dots3d,itemStyle:{opacity:1,color:p=>rainbow(p.value[2])}},
  {type:'custom',xAxisIndex:0,yAxisIndex:0,z:6,silent:true,clip:false,data:pillars.map((p,i)=>[i]),encode:{x:0,y:0},
   renderItem:(ctx,api)=>{const q=pillars[ctx.dataIndex],bot=obstacleFoot,top=obstacleTop,P=(x,y,z)=>api.coord(project(x,y,z));
     return {type:'group',children:[
      {type:'polygon',shape:{points:[P(q[1],q[3],bot),P(q[0],q[3],bot),P(q[0],q[3],top),P(q[1],q[3],top)]},style:{fill:'#6b6b6b'}},
      {type:'polygon',shape:{points:[P(q[0],q[3],bot),P(q[0],q[2],bot),P(q[0],q[2],top),P(q[0],q[3],top)]},style:{fill:'#e0e0e0'}},
      {type:'polygon',shape:{points:[P(q[0],q[2],top),P(q[1],q[2],top),P(q[1],q[3],top),P(q[0],q[3],top)]},style:{fill:'#c4c4c4'}}]};}},
  {type:'custom',xAxisIndex:1,yAxisIndex:1,z:7,silent:true,data:obstacleXs.flatMap(xs=>obstacleYs.map(ys=>[xs[0],ys[0],xs[1],ys[1]])),encode:{x:[0,2],y:[1,3]},
   renderItem:(ctx,api)=>{const a=api.coord([api.value(0),api.value(3)]),b=api.coord([api.value(2),api.value(1)]);
     return {type:'rect',shape:{x:a[0],y:a[1],width:b[0]-a[0],height:b[1]-a[1]},style:{fill:'#c6c9c8'}};}},
  ...trajectories.map((t,i)=>({type:'line',xAxisIndex:1,yAxisIndex:1,z:8+i*0.01,data:t,showSymbol:false,symbol:'none',smooth:.25,silent:true,
     lineStyle:{width:8.5,color:rainbow(trajectoryLevels[i]),cap:'butt',join:'round'}}))
 ]};
const chart=echarts.init(document.getElementById('c'),null,{renderer:'canvas'});
chart.setOption(option);
</script></body></html>
